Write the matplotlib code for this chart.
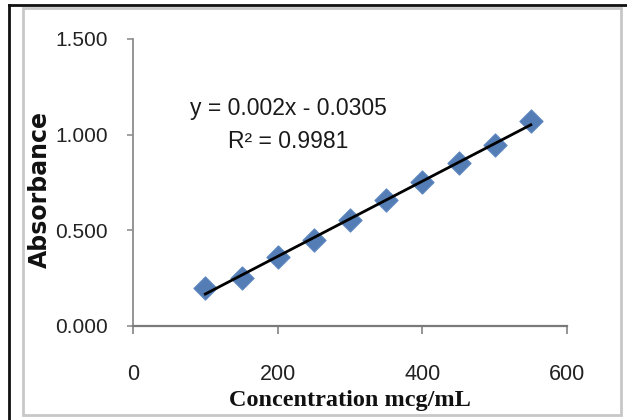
import numpy as np
import matplotlib
matplotlib.use("Agg")
import matplotlib.pyplot as plt
from matplotlib.patches import Rectangle
from matplotlib.lines import Line2D

# Data
concentration = [100, 150, 200, 250, 300, 350, 400, 450, 500, 550]
absorbance = [0.195, 0.247, 0.360, 0.448, 0.552, 0.657, 0.753, 0.849, 0.945, 1.072]
x_ticks = [0, 200, 400, 600]
y_ticks = [0.0, 0.5, 1.0, 1.5]
y_tick_labels = ["0.000", "0.500", "1.000", "1.500"]
equation_text = "y = 0.002x - 0.0305"
r2_text = "R\u00b2 = 0.9981"
x_label = "Concentration mcg/mL"
y_label = "Absorbance"

W, H = 627, 420
fig = plt.figure(figsize=(W / 100, H / 100), dpi=100)
fig.patch.set_facecolor("white")

def fx(px):
    return px / W

def fy(py):
    return (H - py) / H

# Outer frame decorations
fig.add_artist(Rectangle((fx(23), fy(415)), fx(621) - fx(23), fy(8) - fy(415),
                         transform=fig.transFigure, fill=False,
                         edgecolor="#c8c8c8", linewidth=2))
fig.add_artist(Line2D([fx(9), 1.0], [fy(5), fy(5)], transform=fig.transFigure,
                      color="#111111", linewidth=2))
fig.add_artist(Line2D([fx(9), fx(9)], [fy(5), 0.0], transform=fig.transFigure,
                      color="#111111", linewidth=2))

left, right, top, bottom = 133, 567, 39, 325.5
ax = fig.add_axes([fx(left), fy(bottom), fx(right) - fx(left), fy(top) - fy(bottom)])
ax.set_xlim(0, 600)
ax.set_ylim(0, 1.5)

tick_font = ["Liberation Sans", "DejaVu Sans"]

# trendline (least squares fit of the data)
coef = np.polyfit(concentration, absorbance, 1)
xs = np.array([concentration[0], concentration[-1]])
ax.scatter(concentration, absorbance, marker="D", s=140, color="#4a76b0",
           edgecolors="#5b86c0", linewidths=0.8, zorder=2, alpha=0.95)
ax.plot(xs, np.polyval(coef, xs), color="#000000", linewidth=2, zorder=3)

for s in ["top", "right"]:
    ax.spines[s].set_visible(False)
ax.spines["left"].set_color("#8c8c8c")
ax.spines["bottom"].set_color("#7a7a7a")
ax.spines["left"].set_linewidth(1.3)
ax.spines["bottom"].set_linewidth(1.6)

ax.set_xticks(x_ticks)
ax.set_xticklabels([str(v) for v in x_ticks])
ax.set_yticks(y_ticks)
ax.set_yticklabels(y_tick_labels)
ax.tick_params(axis="x", direction="out", length=6, width=1.3, color="#8c8c8c",
               pad=22, labelsize=15.5, labelcolor="#222222")
ax.tick_params(axis="y", direction="out", length=4, width=1.3, color="#9a9a9a",
               pad=14, labelsize=15, labelcolor="#222222")
for lab in ax.get_xticklabels() + ax.get_yticklabels():
    lab.set_family(tick_font)

fig.text(fx(288), fy(108), equation_text, ha="center", va="center",
         fontsize=16.5, family=tick_font, color="#1a1a1a")
fig.text(fx(288), fy(142), r2_text, ha="center", va="center",
         fontsize=16.5, family=tick_font, color="#1a1a1a")

fig.text(fx(350), fy(406), x_label, ha="center", va="baseline",
         fontsize=17.5, fontweight="bold",
         family=["Liberation Serif", "DejaVu Serif"], color="#111111")
fig.text(fx(40), fy(190), y_label, ha="center", va="center", rotation=90,
         fontsize=17, fontweight="bold", family=["DejaVu Sans"], color="#111111")

fig.savefig("out.png", dpi=100, facecolor="white")
